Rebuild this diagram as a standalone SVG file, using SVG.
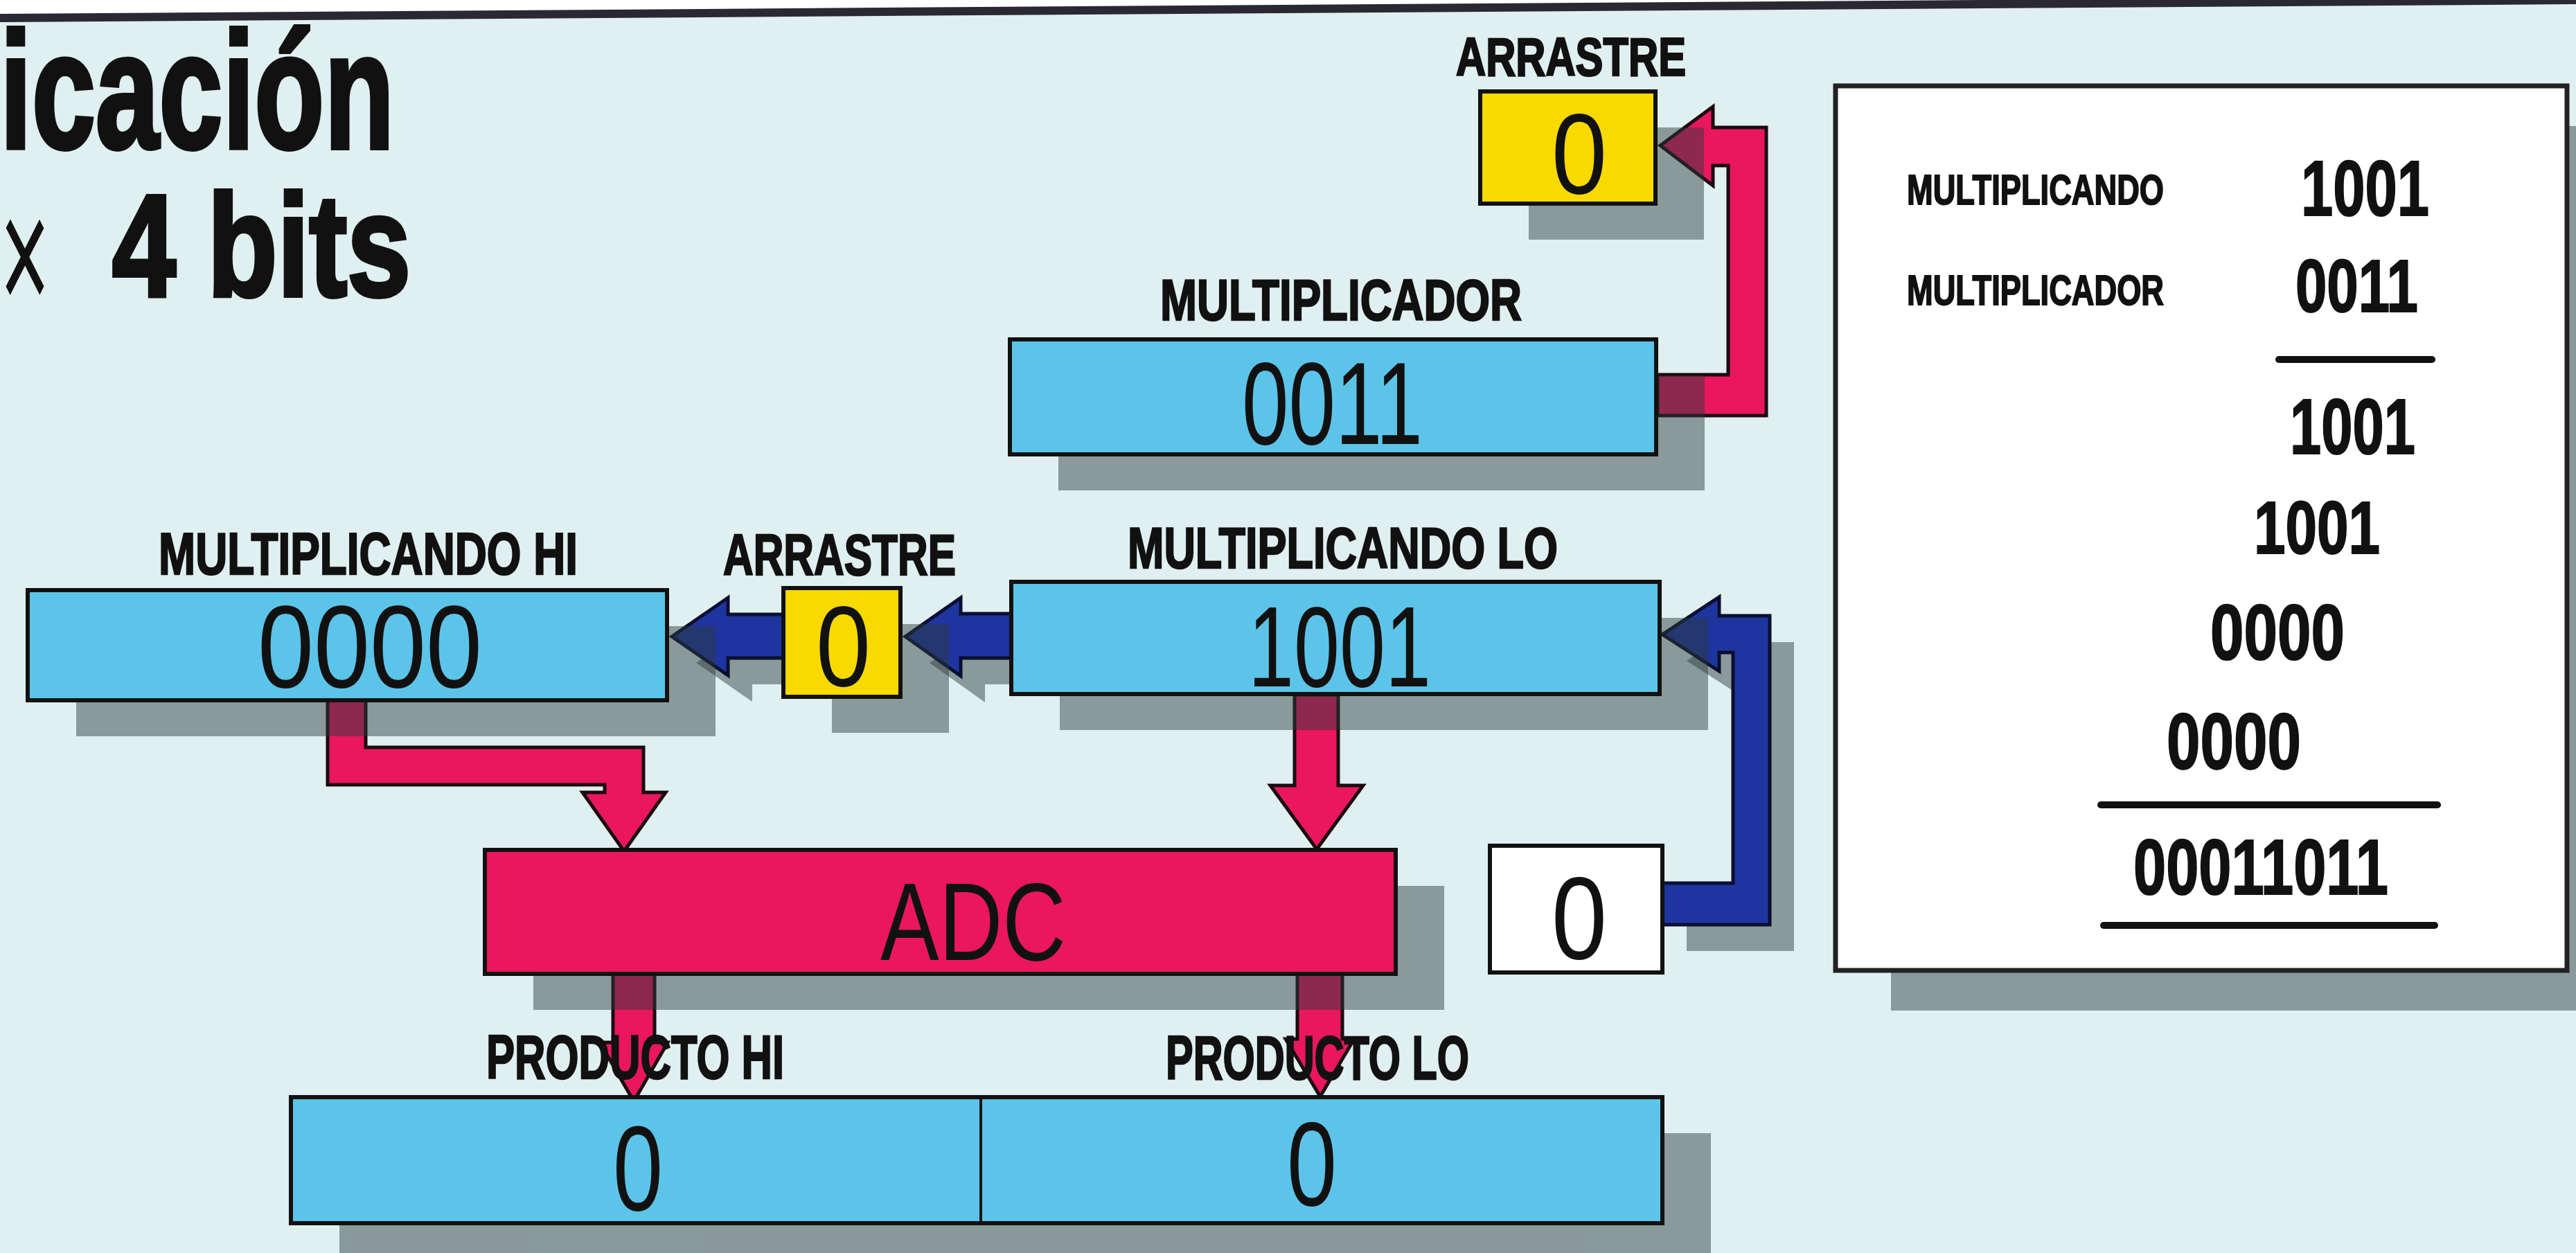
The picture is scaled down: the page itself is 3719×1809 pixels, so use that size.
<svg xmlns="http://www.w3.org/2000/svg" width="3719" height="1809" viewBox="0 0 3719 1809">
<style>
.lbl{font-family:'Liberation Sans',Arial,sans-serif;font-weight:bold;fill:#111;stroke:#111;stroke-width:2.5;}
.ttl{font-family:'Liberation Sans',Arial,sans-serif;font-weight:bold;fill:#111;stroke:#111;stroke-width:6;}
.thin{font-weight:normal;stroke:none;}
.val{font-family:'Liberation Sans',Arial,sans-serif;font-weight:normal;fill:#111;}
.pnl{font-family:'Liberation Sans',Arial,sans-serif;font-weight:bold;fill:#111;stroke:#111;stroke-width:2;}
.box{stroke:#111;stroke-width:6;}
.cyan{fill:#5cc4e9;}
.yel{fill:#f8d900;}
.pink{fill:#ea175e;stroke:#1a0a10;stroke-width:5;stroke-linejoin:miter;}
.blue{fill:#1e35a0;stroke:#0a0f30;stroke-width:5;stroke-linejoin:miter;}
.sh{fill:#2c3a3a;fill-opacity:0.48;}
.rule{stroke:#111;stroke-width:10;stroke-linecap:round;}
</style>
<rect x="0" y="0" width="3719" height="1809" fill="#e0eff0"/>
<polygon points="0,0 3719,0 3719,0 0,26" fill="#ffffff"/>
<line x1="0" y1="26" x2="3719" y2="0" stroke="#2a2833" stroke-width="12"/>

<g id="title">
<text class="ttl"><tspan x="0" y="214" font-size="240" textLength="569" lengthAdjust="spacingAndGlyphs">icación</tspan><tspan class="thin" x="0" y="453" font-size="245" textLength="72" lengthAdjust="spacingAndGlyphs">×</tspan><tspan x="162" y="427" font-size="210" textLength="431" lengthAdjust="spacingAndGlyphs">4 bits</tspan></text>
</g>

<g id="arrow-shadows">
<polygon class="sh" transform="translate(35,38)" points="2400,1275 2502,1275 2502,942 2482,942 2482,969 2400,916 2482,862 2482,889 2555,889 2555,1335 2400,1335"/>
<polygon class="sh" transform="translate(35,38)" points="1461,886 1387,886 1387,863 1307,919 1387,976 1387,950 1461,950"/>
<polygon class="sh" transform="translate(35,38)" points="1131,887 1051,887 1051,863 970,919 1051,975 1051,950 1131,950"/>
</g>

<g id="connectors">
<polygon class="pink" points="2393,541 2495,541 2495,239 2473,239 2473,268 2397,210 2473,154 2473,184 2550,184 2550,600 2393,600"/>
<polygon class="blue" points="2400,1275 2502,1275 2502,942 2482,942 2482,969 2400,916 2482,862 2482,889 2555,889 2555,1335 2400,1335"/>
<polygon class="blue" points="1461,886 1387,886 1387,863 1307,919 1387,976 1387,950 1461,950"/>
<polygon class="blue" points="1131,887 1051,887 1051,863 970,919 1051,975 1051,950 1131,950"/>
<polygon class="pink" points="473,1010 528,1010 528,1079 929,1079 929,1144 961,1144 901,1229 841,1144 873,1144 873,1133 473,1133"/>
<polygon class="pink" points="1869,1003 1932,1003 1932,1134 1968,1134 1901,1226 1834,1134 1869,1134"/>
<polygon class="pink" points="885,1406 945,1406 945,1505 964,1505 915,1590 866,1505 885,1505"/>
<polygon class="pink" points="1873,1404 1938,1404 1938,1500 1955,1500 1906,1583 1856,1500 1873,1500"/>
</g>

<g id="shadows">
<rect class="sh" x="2207" y="184" width="253" height="162"/>
<rect class="sh" x="1528" y="542" width="933" height="166"/>
<rect class="sh" x="110" y="904" width="923" height="159"/>
<rect class="sh" x="1201" y="901" width="169" height="157"/>
<rect class="sh" x="1530" y="892" width="936" height="162"/>
<rect class="sh" x="770" y="1279" width="1315" height="179"/>
<rect class="sh" x="490" y="1636" width="1980" height="182"/>
<rect class="sh" x="2730" y="182" width="1060" height="1277"/>
</g>

<g id="arrastre-top">
<rect class="box yel" x="2137" y="132" width="253" height="162"/>
<text class="lbl" x="2102" y="109" font-size="77" textLength="332" lengthAdjust="spacingAndGlyphs">ARRASTRE</text>
<text class="val" x="2240" y="279" font-size="165" textLength="80" lengthAdjust="spacingAndGlyphs">0</text>
</g>

<g id="multiplicador">
<rect class="box cyan" x="1458" y="490" width="933" height="166"/>
<text class="lbl" x="1675" y="462" font-size="84" textLength="522" lengthAdjust="spacingAndGlyphs">MULTIPLICADOR</text>
<text class="val" x="1793" y="641" font-size="169" textLength="261" lengthAdjust="spacingAndGlyphs">0011</text>
</g>

<g id="multiplicando-hi">
<rect class="box cyan" x="40" y="852" width="923" height="159"/>
<text class="lbl" x="229" y="829" font-size="86" textLength="605" lengthAdjust="spacingAndGlyphs">MULTIPLICANDO HI</text>
<text class="val" x="372" y="992" font-size="168" textLength="324" lengthAdjust="spacingAndGlyphs">0000</text>
</g>

<g id="arrastre-mid">
<rect class="box yel" x="1131" y="849" width="169" height="157"/>
<text class="lbl" x="1044" y="830" font-size="84" textLength="336" lengthAdjust="spacingAndGlyphs">ARRASTRE</text>
<text class="val" x="1178" y="990" font-size="165" textLength="79" lengthAdjust="spacingAndGlyphs">0</text>
</g>

<g id="multiplicando-lo">
<rect class="box cyan" x="1460" y="840" width="936" height="162"/>
<text class="lbl" x="1628" y="820" font-size="84" textLength="621" lengthAdjust="spacingAndGlyphs">MULTIPLICANDO LO</text>
<text class="val" x="1802" y="991" font-size="165" textLength="264" lengthAdjust="spacingAndGlyphs">1001</text>
</g>

<g id="adc">
<rect class="box" fill="#ea175e" x="700" y="1227" width="1315" height="179"/>
<text class="val" x="1271" y="1386" font-size="160" textLength="268" lengthAdjust="spacingAndGlyphs">ADC</text>
</g>

<g id="carry-in">
<rect class="box" fill="#ffffff" x="2151" y="1221" width="249" height="183"/>
<text class="val" x="2240" y="1384" font-size="168" textLength="80" lengthAdjust="spacingAndGlyphs">0</text>
</g>

<g id="producto">
<rect class="box cyan" x="420" y="1584" width="1980" height="182"/>
<line x1="1416" y1="1584" x2="1416" y2="1766" stroke="#111" stroke-width="4"/>
<text class="lbl" x="702" y="1557" font-size="89" textLength="430" lengthAdjust="spacingAndGlyphs">PRODUCTO HI</text>
<text class="lbl" x="1683" y="1558" font-size="89" textLength="438" lengthAdjust="spacingAndGlyphs">PRODUCTO LO</text>
<text class="val" x="885" y="1747" font-size="175" textLength="72" lengthAdjust="spacingAndGlyphs">0</text>
<text class="val" x="1858" y="1740" font-size="172" textLength="72" lengthAdjust="spacingAndGlyphs">0</text>
</g>

<g id="panel">
<rect x="2650" y="124" width="1056" height="1277" fill="#ffffff" stroke="#222" stroke-width="7"/>
<text class="pnl" x="2753" y="295" font-size="61" textLength="371" lengthAdjust="spacingAndGlyphs">MULTIPLICANDO</text>
<text class="pnl" x="2753" y="440" font-size="61" textLength="371" lengthAdjust="spacingAndGlyphs">MULTIPLICADOR</text>
<text class="pnl" x="3322" y="311" font-size="113" textLength="185" lengthAdjust="spacingAndGlyphs">1001</text>
<text class="pnl" x="3314" y="450" font-size="108" textLength="177" lengthAdjust="spacingAndGlyphs">0011</text>
<line class="rule" x1="3290" y1="519" x2="3511" y2="519"/>
<text class="pnl" x="3306" y="655" font-size="113" textLength="181" lengthAdjust="spacingAndGlyphs">1001</text>
<text class="pnl" x="3254" y="799" font-size="108" textLength="182" lengthAdjust="spacingAndGlyphs">1001</text>
<text class="pnl" x="3191" y="952" font-size="113" textLength="194" lengthAdjust="spacingAndGlyphs">0000</text>
<text class="pnl" x="3128" y="1110" font-size="115" textLength="194" lengthAdjust="spacingAndGlyphs">0000</text>
<line class="rule" x1="3033" y1="1162" x2="3519" y2="1162"/>
<text class="pnl" x="3080" y="1291" font-size="113" textLength="368" lengthAdjust="spacingAndGlyphs">00011011</text>
<line class="rule" x1="3037" y1="1336" x2="3515" y2="1336"/>
</g>
</svg>
